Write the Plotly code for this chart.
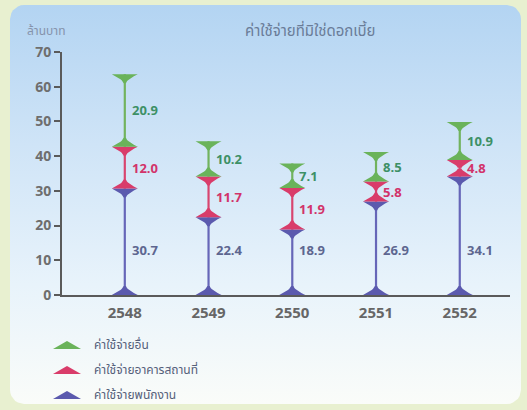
import plotly.graph_objects as go
import numpy as np

years = ["2548", "2549", "2550", "2551", "2552"]
staff = [30.7, 22.4, 18.9, 26.9, 34.1]       # ค่าใช้จ่ายพนักงาน
premises = [12.0, 11.7, 11.9, 5.8, 4.8]      # ค่าใช้จ่ายอาคารสถานที่
other = [20.9, 10.2, 7.1, 8.5, 10.9]          # ค่าใช้จ่ายอื่น
series_names = ["ค่าใช้จ่ายพนักงาน", "ค่าใช้จ่ายอาคารสถานที่", "ค่าใช้จ่ายอื่น"]
title_text = "ค่าใช้จ่ายที่มิใช่ดอกเบี้ย"
unit_text = "ล้านบาท"

W, H = 527, 410
X0, X1 = 62, 510       # plot area pixels
YB, YT = 295, 52
xr = [-0.75, 4.6]
yr = [0, 70]
px_x = (X1 - X0) / (xr[1] - xr[0])
px_y = (YB - YT) / (yr[1] - yr[0])

fill_cols = ["#5b5aae", "#d93c6a", "#6ab35a"]
line_cols = ["#6666b8", "#d8456f", "#72b35e"]
lab_cols = ["#5d6690", "#d2336a", "#3d9066"]

FONT = "Open Sans, Noto Sans Thai, Noto Sans, DejaVu Sans, sans-serif"

fig = go.Figure()

# --- background panel with vertical gradient (pixel coordinates on x/y) ---
def rounded_rect(x0, y0, x1, y1, r, n=8):
    xs, ys = [], []
    corners = [(x1 - r, y0 + r, -90, 0), (x1 - r, y1 - r, 0, 90),
               (x0 + r, y1 - r, 90, 180), (x0 + r, y0 + r, 180, 270)]
    for cx, cy, a0, a1 in corners:
        for a in np.linspace(np.radians(a0), np.radians(a1), n):
            xs.append(cx + r * np.cos(a))
            ys.append(cy + r * np.sin(a))
    xs.append(xs[0]); ys.append(ys[0])
    return xs, ys

bx, by = rounded_rect(10, 5, 521, 404, 14)
fig.add_trace(go.Scatter(x=bx, y=by, mode="lines", fill="toself",
                         line=dict(width=0, color="rgba(0,0,0,0)"),
                         fillgradient=dict(type="vertical",
                                           colorscale=[[0, "#fafcf9"], [0.3, "#e8f3fb"],
                                                       [0.65, "#cfe4f7"], [1, "#b3d4f2"]]),
                         hoverinfo="skip", showlegend=False, xaxis="x", yaxis="y"))

# --- funnel shapes ---
hw = 13 / px_x      # half width in x units
hh = 9 / px_y       # height in y units

def funnel(xc, yflat, direction, k=10):
    # direction +1: flat edge at bottom, narrowing upward; -1: flat edge at top
    t = np.linspace(0, 1, k)
    neck = 1.1 / px_x
    w = neck + (hw - neck) * (1 - t) ** 1.6
    ys = yflat + direction * hh * t
    xs = list(xc - w) + list(xc + w[::-1])
    yy = list(ys) + list(ys[::-1])
    xs.append(xs[0]); yy.append(yy[0])
    return xs, yy

stack = [staff, premises, other]
base = [0.0] * len(years)
for s, vals in enumerate(stack):
    top = [b + v for b, v in zip(base, vals)]
    lx, ly, px, py = [], [], [], []
    for j in range(len(years)):
        lx += [j, j, None]
        ly += [base[j], top[j], None]
        fx, fy = funnel(j, base[j], +1)
        px += fx + [None]; py += fy + [None]
        fx, fy = funnel(j, top[j], -1)
        px += fx + [None]; py += fy + [None]
    fig.add_trace(go.Scatter(x=lx, y=ly, mode="lines",
                             line=dict(color=line_cols[s], width=2.2),
                             showlegend=False, hoverinfo="skip",
                             xaxis="x2", yaxis="y2"))
    fig.add_trace(go.Scatter(x=px, y=py, mode="lines", fill="toself",
                             fillcolor=fill_cols[s], line=dict(width=0, color=fill_cols[s]),
                             showlegend=False, hoverinfo="skip",
                             xaxis="x2", yaxis="y2"))
    # value labels
    for j in range(len(years)):
        ypos = 13 if s == 0 else (base[j] + top[j]) / 2
        fig.add_annotation(x=j, y=ypos, xref="x2", yref="y2", text=f"<b>{vals[j]:.1f}</b>",
                           showarrow=False, xanchor="left", xshift=5,
                           font=dict(family=FONT, size=13, color=lab_cols[s]))
    base = top

# --- legend (drawn manually in pixel coordinates) ---
leg_rows = [(345, 2), (370, 1), (395, 0)]
for yc, s in leg_rows:
    fig.add_trace(go.Scatter(x=[53, 81, 67, 53], y=[yc + 4, yc + 4, yc - 4, yc + 4],
                             mode="lines", fill="toself", fillcolor=fill_cols[s],
                             line=dict(width=0, color=fill_cols[s]),
                             showlegend=False, hoverinfo="skip", xaxis="x", yaxis="y"))
    fig.add_annotation(x=92, y=yc - 1, xref="x", yref="y", text=series_names[s],
                       showarrow=False, xanchor="left",
                       font=dict(family=FONT, size=12, color="#55607a"))

# title and unit
fig.add_annotation(x=310, y=30, xref="x", yref="y", text=title_text, showarrow=False,
                   font=dict(family=FONT, size=15, color="#6a7c98"))
fig.add_annotation(x=25, y=30, xref="x", yref="y", text=unit_text, showarrow=False,
                   xanchor="left", font=dict(family=FONT, size=12, color="#8593ab"))

fig.update_layout(
    template="none",
    width=W, height=H, margin=dict(l=0, r=0, t=0, b=0, pad=0, autoexpand=False),
    paper_bgcolor="#e8f0d0", plot_bgcolor="rgba(0,0,0,0)",
    showlegend=False,
    xaxis=dict(domain=[0, 1], range=[0, W], visible=False, fixedrange=True, automargin=False),
    yaxis=dict(domain=[0, 1], range=[H, 0], visible=False, fixedrange=True, automargin=False),
    xaxis2=dict(domain=[X0 / W, X1 / W], range=xr, anchor="y2", automargin=False,
                tickvals=list(range(len(years))), ticktext=years,
                showline=True, linecolor="#5a5a5a", linewidth=2,
                showgrid=False, zeroline=False, ticks="",
                ticklabelstandoff=3,
                tickfont=dict(family=FONT, size=15, color="#666666", weight="bold")),
    yaxis2=dict(domain=[(H - YB) / H, (H - YT) / H], range=yr, anchor="x2", automargin=False,
                dtick=10, showline=True, linecolor="#5a5a5a", linewidth=2,
                ticks="outside", ticklen=6, tickwidth=2, tickcolor="#5a5a5a",
                showgrid=False, zeroline=False,
                tickfont=dict(family=FONT, size=14, color="#6e6e6e", weight="bold")),
)

fig.write_html("out.html")
